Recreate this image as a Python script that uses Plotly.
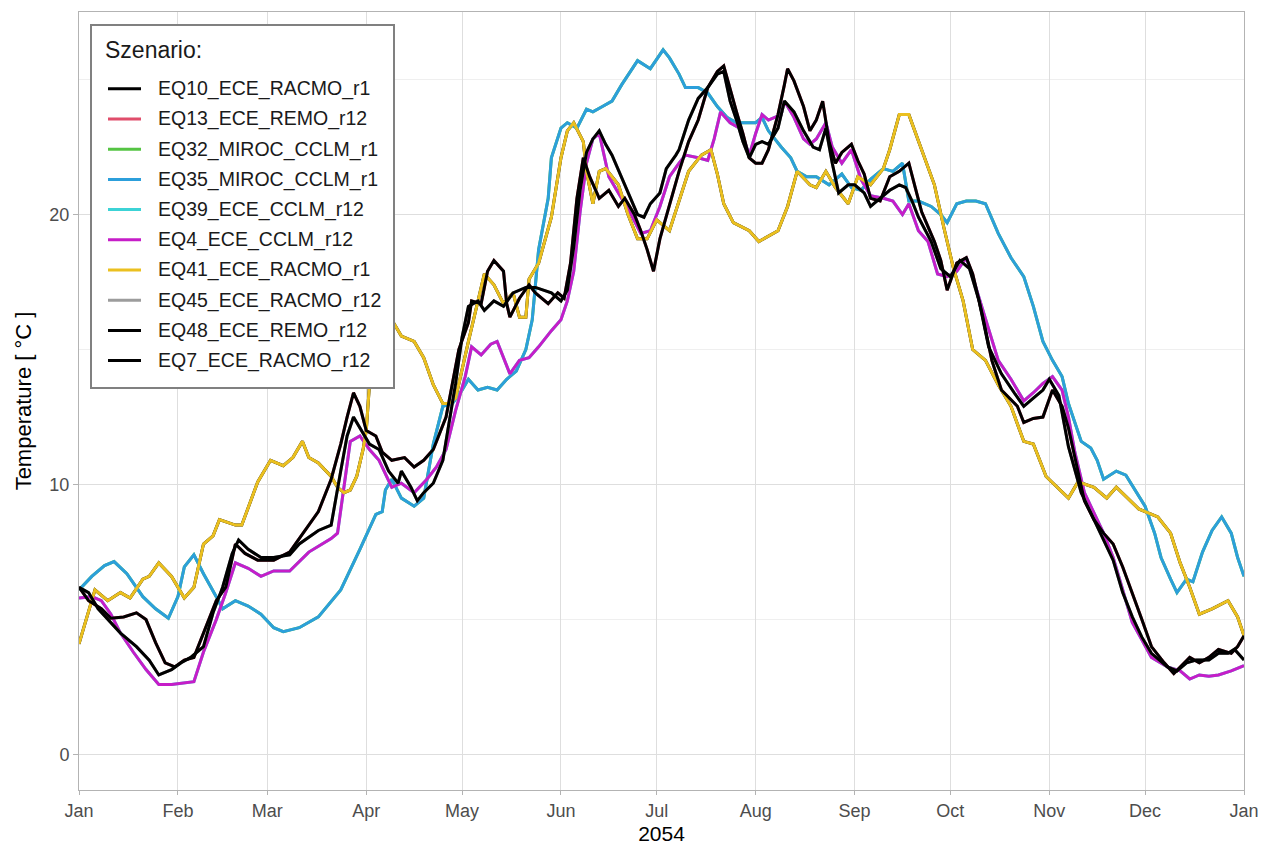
import pandas as pd
import plotly.graph_objects as go

START = pd.Timestamp("2054-01-01")
END = pd.Timestamp("2055-01-01")

# ---- smoothed daily temperature per regional model run (day offset from 1 Jan 2054, °C) ----
racmo_r1_days = [0, 5, 9, 13, 16, 20, 22, 25, 29, 33, 36, 39, 42, 44, 49, 51, 56, 60, 64, 67, 70, 72, 75, 79,
                 81, 83, 85, 87, 89, 90, 91, 93, 96, 98, 101, 105, 108, 111, 114, 116, 118, 120, 122, 127, 130,
                 133, 136, 138, 140, 141, 144, 148, 151, 153, 155, 158, 159, 161, 163, 165, 169, 172, 175, 178,
                 181, 185, 188, 191, 195, 198, 200, 202, 205, 210, 213, 219, 222, 225, 229, 231, 234, 237, 241,
                 244, 248, 252, 254, 257, 260, 263, 268, 271, 274, 277, 280, 284, 288, 292, 296, 299, 303, 310,
                 313, 318, 322, 325, 332, 338, 342, 345, 348, 351, 355, 360, 363, 365]
racmo_r1_temp = [4.1, 6.1, 5.7, 6.0, 5.8, 6.5, 6.6, 7.1, 6.6, 5.8, 6.2, 7.8, 8.1, 8.7, 8.5, 8.5, 10.1, 10.9, 10.7,
                 11.0, 11.6, 11.0, 10.8, 10.3, 9.9, 9.7, 9.8, 10.3, 11.3, 12.0, 13.7, 15.3, 16.4, 16.1, 15.5, 15.3,
                 14.7, 13.7, 13.0, 13.0, 13.2, 14.3, 15.3, 17.8, 17.4, 16.7, 17.1, 16.2, 16.2, 17.6, 18.2, 19.9,
                 22.1, 23.1, 23.4, 22.7, 21.6, 20.4, 21.6, 21.7, 21.1, 20.0, 19.1, 19.1, 19.8, 19.4, 20.5, 21.6,
                 22.2, 22.4, 21.5, 20.4, 19.7, 19.4, 19.0, 19.4, 20.3, 21.6, 21.1, 21.0, 21.6, 21.0, 20.4, 21.4,
                 21.1, 21.7, 22.4, 23.7, 23.7, 22.7, 21.1, 19.5, 18.0, 16.8, 15.0, 14.6, 13.7, 12.9, 11.6, 11.5,
                 10.3, 9.5, 10.1, 9.9, 9.5, 9.9, 9.1, 8.8, 8.2, 7.1, 6.2, 5.2, 5.4, 5.7, 5.1, 4.4]

remo_r12_days = [0, 3, 7, 10, 14, 18, 21, 24, 27, 30, 33, 36, 39, 43, 46, 49, 52, 56, 61, 66, 69, 75, 79, 82, 84,
                 86, 88, 90, 93, 95, 98, 102, 105, 108, 111, 113, 115, 117, 119, 122, 123, 126, 128, 130, 133, 134,
                 135, 138, 141, 143, 147, 150, 152, 154, 156, 158, 160, 163, 166, 169, 171, 174, 176, 178, 180,
                 182, 185, 188, 191, 194, 197, 200, 202, 204, 206, 208, 210, 212, 214, 216, 219, 221, 222, 224,
                 227, 229, 231, 233, 235, 237, 239, 242, 244, 246, 248, 251, 254, 257, 260, 262, 264, 268, 270,
                 272, 275, 278, 280, 283, 286, 289, 294, 296, 299, 302, 305, 308, 310, 315, 318, 321, 324, 327,
                 330, 333, 336, 340, 343, 345, 348, 351, 354, 357, 361, 363, 365]
remo_r12_temp = [6.2, 5.7, 5.4, 5.05, 5.1, 5.25, 5.0, 4.15, 3.4, 3.25, 3.5, 3.6, 4.5, 5.7, 6.2, 7.8, 7.45, 7.2,
                 7.2, 7.5, 8.0, 9.0, 10.2, 11.5, 12.5, 13.4, 12.9, 12.0, 11.8, 11.2, 10.9, 11.0, 10.65, 10.9, 11.3,
                 11.9, 12.5, 13.75, 15.0, 16.0, 16.8, 16.7, 17.9, 18.3, 17.9, 16.7, 16.2, 16.9, 17.4, 17.1, 16.7,
                 17.1, 16.9, 18.2, 20.6, 22.1, 21.4, 20.6, 20.9, 20.3, 20.6, 20.0, 19.4, 18.7, 17.9, 19.1, 20.4,
                 21.6, 22.7, 23.5, 24.7, 25.3, 25.5, 24.6, 23.8, 23.0, 22.1, 21.9, 21.9, 22.4, 23.7, 24.8, 25.4,
                 24.95, 24.0, 23.1, 23.5, 24.2, 22.7, 21.9, 22.3, 22.6, 22.0, 21.5, 20.6, 20.5, 21.4, 21.6, 21.9,
                 21.0, 20.1, 19.0, 18.3, 17.2, 18.2, 18.4, 17.8, 16.3, 14.6, 13.5, 12.9, 12.3, 12.45, 12.5, 13.5,
                 12.9, 12.1, 9.4, 8.7, 8.2, 7.8, 6.95, 6.0, 5.0, 4.0, 3.4, 3.0, 3.25, 3.6, 3.4, 3.6, 3.9, 3.75,
                 4.0, 4.4]

miroc_r1_days = [0, 4, 8, 11, 15, 20, 24, 28, 31, 33, 36, 39, 43, 45, 49, 53, 57, 61, 64, 69, 75, 82, 88, 93, 95,
                 96, 98, 101, 105, 108, 111, 114, 117, 120, 122, 125, 128, 131, 134, 137, 140, 142, 144, 147, 148,
                 151, 153, 156, 159, 161, 164, 167, 170, 175, 179, 183, 185, 188, 190, 194, 197, 200, 203, 206,
                 212, 214, 216, 220, 223, 225, 228, 231, 235, 239, 242, 245, 248, 252, 255, 258, 260, 263, 267,
                 270, 272, 275, 278, 281, 284, 288, 292, 296, 299, 302, 305, 308, 310, 314, 317, 319, 321, 323,
                 325, 328, 331, 334, 337, 339, 342, 344, 347, 349, 352, 355, 358, 361, 363, 365]
miroc_r1_temp = [6.1, 6.6, 7.0, 7.15, 6.7, 5.85, 5.4, 5.05, 5.85, 6.95, 7.4, 6.7, 5.85, 5.4, 5.7, 5.5, 5.2, 4.7,
                 4.55, 4.7, 5.1, 6.1, 7.6, 8.9, 9.0, 9.8, 10.2, 9.5, 9.2, 9.5, 11.5, 12.9, 13.0, 13.5, 13.9, 13.5,
                 13.6, 13.5, 13.9, 14.2, 15.0, 16.1, 18.7, 20.6, 22.1, 23.2, 23.4, 23.2, 23.9, 23.8, 24.0, 24.2,
                 24.8, 25.7, 25.4, 26.1, 25.8, 25.2, 24.7, 24.7, 24.5, 24.0, 23.6, 23.4, 23.4, 23.6, 23.1, 22.5,
                 22.1, 21.6, 21.4, 21.4, 21.1, 21.5, 21.0, 20.9, 21.3, 21.7, 21.6, 21.9, 20.5, 20.5, 20.3, 20.0,
                 19.7, 20.4, 20.5, 20.5, 20.4, 19.3, 18.4, 17.7, 16.6, 15.3, 14.6, 14.0, 13.0, 11.6, 11.35, 10.9,
                 10.2, 10.35, 10.5, 10.35, 9.8, 9.2, 8.2, 7.3, 6.5, 6.0, 6.5, 6.4, 7.5, 8.3, 8.8, 8.2, 7.3, 6.6]

cclm_r12_days = [0, 4, 7, 10, 13, 17, 21, 25, 29, 33, 36, 39, 43, 46, 49, 53, 57, 61, 66, 72, 79, 81, 83, 85, 88,
                 91, 94, 98, 101, 105, 109, 112, 115, 118, 121, 123, 126, 129, 131, 135, 138, 141, 144, 148, 151,
                 153, 155, 157, 159, 161, 163, 164, 166, 169, 173, 176, 179, 182, 185, 188, 190, 194, 197, 199,
                 201, 204, 207, 210, 212, 214, 216, 220, 221, 224, 227, 229, 231, 234, 236, 239, 242, 245, 248,
                 252, 255, 258, 260, 263, 266, 269, 272, 275, 278, 281, 284, 288, 292, 296, 299, 302, 305, 308,
                 310, 312, 315, 318, 321, 324, 327, 330, 333, 336, 341, 345, 348, 351, 354, 357, 361, 365]
cclm_r12_temp = [5.8, 5.85, 5.7, 5.2, 4.5, 3.8, 3.15, 2.6, 2.6, 2.65, 2.7, 3.8, 5.0, 6.0, 7.1, 6.9, 6.6, 6.8,
                 6.8, 7.5, 8.0, 8.2, 10.0, 11.6, 11.8, 11.3, 10.9, 9.9, 10.05, 9.7, 10.2, 10.65, 11.3, 12.75,
                 14.0, 15.1, 14.8, 15.2, 15.3, 14.1, 14.6, 14.7, 15.1, 15.7, 16.1, 16.8, 17.9, 20.1, 21.9, 22.8,
                 23.0, 22.5, 21.4, 20.8, 20.0, 19.3, 19.4, 20.3, 21.4, 21.9, 22.2, 22.1, 22.0, 22.8, 23.8, 23.4,
                 23.2, 22.2, 23.0, 23.7, 23.5, 23.7, 24.2, 23.6, 22.8, 22.6, 22.8, 23.4, 22.5, 21.9, 22.4, 21.3,
                 20.7, 20.6, 20.5, 20.0, 20.4, 19.4, 19.0, 17.8, 17.7, 17.9, 18.4, 17.3, 16.1, 14.6, 13.9, 13.1,
                 13.4, 13.75, 14.0, 13.5, 12.5, 11.2, 9.7, 8.95, 8.2, 7.3, 6.1, 4.9, 4.25, 3.6, 3.25, 3.1, 2.8,
                 2.95, 2.9, 2.95, 3.1, 3.3]

racmo_r12_days = [0, 3, 6, 9, 13, 18, 22, 25, 29, 32, 35, 39, 42, 45, 48, 50, 53, 57, 61, 66, 69, 75, 79, 82, 84,
                  86, 88, 91, 94, 97, 100, 101, 104, 106, 108, 111, 114, 116, 118, 120, 122, 125, 127, 130, 133,
                  136, 140, 143, 148, 151, 153, 155, 157, 159, 161, 163, 165, 167, 170, 173, 175, 177, 179, 182,
                  184, 187, 188, 191, 194, 197, 200, 202, 204, 206, 208, 210, 212, 214, 216, 219, 221, 224, 227,
                  230, 232, 234, 236, 238, 241, 243, 246, 248, 251, 254, 257, 259, 261, 263, 267, 270, 273, 276,
                  279, 282, 285, 289, 293, 296, 299, 302, 304, 307, 310, 314, 317, 321, 324, 327, 330, 333, 336,
                  341, 344, 347, 350, 354, 357, 360, 362, 365]
racmo_r12_temp = [6.2, 6.0, 5.4, 5.0, 4.5, 4.0, 3.5, 2.95, 3.15, 3.4, 3.6, 4.0, 5.25, 6.2, 7.45, 7.95, 7.6, 7.3,
                  7.3, 7.4, 7.8, 8.3, 8.5, 10.5, 11.8, 12.5, 12.1, 11.5, 11.3, 10.5, 10.05, 10.5, 9.9, 9.4, 9.7,
                  10.05, 10.9, 12.3, 13.75, 15.45, 16.6, 16.8, 16.45, 16.8, 16.6, 17.1, 17.3, 17.3, 17.1, 16.8,
                  17.2, 18.8, 20.9, 22.3, 22.8, 23.1, 22.6, 22.2, 21.4, 20.6, 20.0, 19.9, 20.4, 20.8, 21.7, 22.2,
                  22.4, 23.5, 24.3, 24.7, 25.2, 25.3, 24.2, 23.5, 22.7, 22.1, 22.6, 22.7, 22.6, 23.2, 24.2, 23.8,
                  23.1, 22.5, 22.4, 23.2, 21.9, 20.8, 21.1, 21.1, 20.8, 20.3, 20.6, 20.9, 21.1, 21.0, 20.5, 19.9,
                  19.0, 18.0, 17.7, 18.3, 18.0, 16.8, 15.1, 14.1, 13.4, 12.9, 13.2, 13.5, 13.9, 13.3, 11.4, 9.7,
                  8.95, 7.95, 7.2, 6.0, 5.1, 4.35, 3.75, 3.25, 3.1, 3.4, 3.5, 3.5, 3.75, 3.75, 3.9, 3.5]

# ---- scenarios: legend order, colours and the model run each one uses ----
scenario_names = ["EQ10_ECE_RACMO_r1", "EQ13_ECE_REMO_r12", "EQ32_MIROC_CCLM_r1", "EQ35_MIROC_CCLM_r1",
                  "EQ39_ECE_CCLM_r12", "EQ4_ECE_CCLM_r12", "EQ41_ECE_RACMO_r1", "EQ45_ECE_RACMO_r12",
                  "EQ48_ECE_REMO_r12", "EQ7_ECE_RACMO_r12"]
scenario_colors = ["#000000", "#E04D6B", "#55C443", "#2C9FDB", "#3CD3D6", "#C61DC8", "#EBC01F", "#9C9C9C",
                   "#000000", "#000000"]
scenario_runs = [
    (racmo_r1_days, racmo_r1_temp),
    (remo_r12_days, remo_r12_temp),
    (miroc_r1_days, miroc_r1_temp),
    (miroc_r1_days, miroc_r1_temp),
    (cclm_r12_days, cclm_r12_temp),
    (cclm_r12_days, cclm_r12_temp),
    (racmo_r1_days, racmo_r1_temp),
    (racmo_r12_days, racmo_r12_temp),
    (remo_r12_days, remo_r12_temp),
    (racmo_r12_days, racmo_r12_temp),
]

month_labels = ["Jan", "Feb", "Mar", "Apr", "May", "Jun", "Jul", "Aug", "Sep", "Oct", "Nov", "Dec", "Jan"]
y_ticks = [0, 10, 20]
y_minor = [5, 15, 25]

month_starts = list(pd.date_range(START, END, freq="MS"))

fig = go.Figure()
for name, color, (days, temp) in zip(scenario_names, scenario_colors, scenario_runs):
    dates = START + pd.to_timedelta(days, unit="D")
    fig.add_trace(go.Scatter(x=dates, y=temp, mode="lines", name=name,
                             line=dict(color=color, width=3), showlegend=False))

# ---- page geometry (pixels) ----
W, H = 1264, 845
L, R, T, B = 79, 20, 12, 55
PW, PH = W - L - R, H - T - B


def px(xp):
    return (xp - L) / PW


def py(yp):
    return (H - B - yp) / PH


FONT = "Liberation Sans, Arial, sans-serif"

# ---- legend box drawn over the panel ----
shapes = [dict(type="rect", xref="paper", yref="paper", x0=px(91), x1=px(394), y0=py(388), y1=py(25),
               line=dict(color="#808080", width=2), fillcolor="white", layer="above")]
annotations = [dict(text="Szenario:", xref="paper", yref="paper", x=px(103), y=py(50), xanchor="left",
                    yanchor="middle", showarrow=False, font=dict(family=FONT, size=23, color="#1a1a1a"))]
for i, (name, color) in enumerate(zip(scenario_names, scenario_colors)):
    yc = 88.8 + i * 30.2
    shapes.append(dict(type="line", xref="paper", yref="paper", x0=px(108), x1=px(141), y0=py(yc), y1=py(yc),
                       line=dict(color=color, width=3), layer="above"))
    annotations.append(dict(text=name, xref="paper", yref="paper", x=px(156), y=py(yc), xanchor="left",
                            yanchor="middle", showarrow=False,
                            font=dict(family=FONT, size=19.5, color="#1a1a1a")))

fig.update_layout(
    width=W, height=H,
    margin=dict(l=L, r=R, t=T, b=B),
    plot_bgcolor="white", paper_bgcolor="white",
    font=dict(family=FONT, size=18, color="#4d4d4d"),
    showlegend=False,
    shapes=shapes,
    annotations=annotations,
)
fig.update_xaxes(
    type="date", range=[START, END],
    tickvals=month_starts, ticktext=month_labels,
    showgrid=True, gridcolor="#dedede", gridwidth=1,
    ticks="outside", ticklen=4, tickcolor="#b3b3b3", tickwidth=1,
    showline=True, mirror=True, linecolor="#b3b3b3", linewidth=1,
    zeroline=False, automargin=False,
    tickfont=dict(size=18, color="#4d4d4d"),
    title=dict(text="2054", font=dict(size=21, color="#000000"), standoff=7),
)
fig.update_yaxes(
    range=[-1.31, 27.5],
    tickvals=y_ticks, ticktext=[str(v) for v in y_ticks],
    showgrid=True, gridcolor="#dedede", gridwidth=1,
    minor=dict(tickvals=y_minor, showgrid=True, gridcolor="#efefef", gridwidth=1, ticks=""),
    ticks="outside", ticklen=5, tickcolor="#b3b3b3", tickwidth=1,
    showline=True, mirror=True, linecolor="#b3b3b3", linewidth=1,
    zeroline=False, automargin=False,
    tickfont=dict(size=18, color="#4d4d4d"),
    title=dict(text="Temperature [ °C ]", font=dict(size=22, color="#000000"), standoff=11),
)

fig.write_html("out.html")
